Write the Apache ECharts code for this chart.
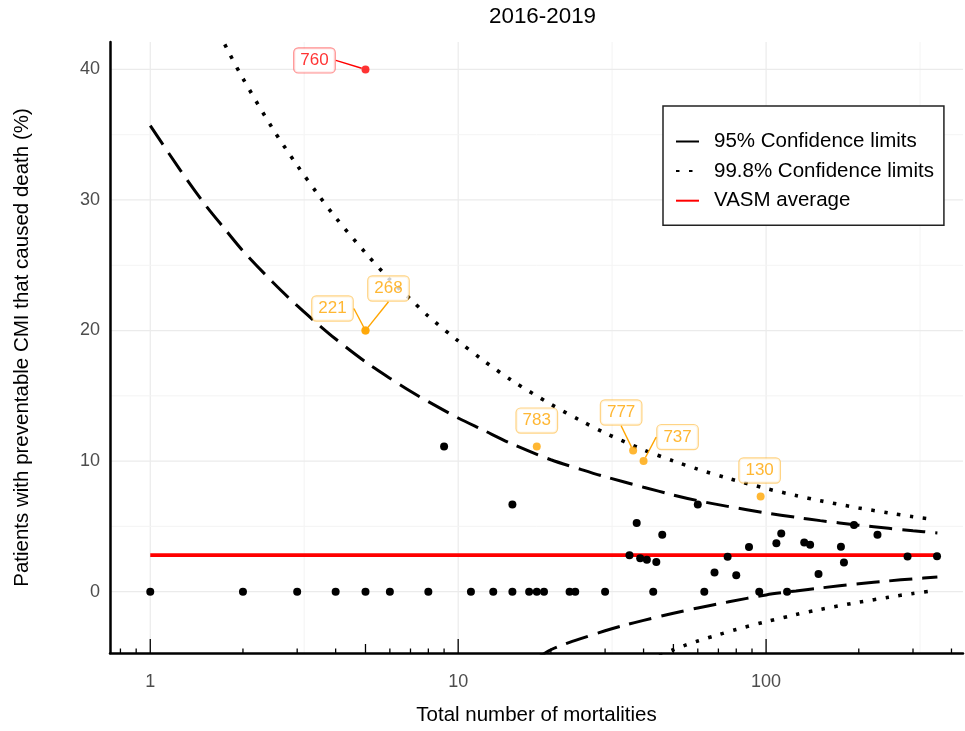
<!DOCTYPE html>
<html><head><meta charset="utf-8">
<script src="https://cdn.jsdelivr.net/npm/echarts@6.0.0/dist/echarts.min.js"></script>
<style>html,body{margin:0;padding:0;background:#fff}#c{width:965px;height:731px}</style>
</head><body><div id="c"></div>
<script>
// ---------- texts ----------
const titleText = '2016-2019';
const xTitle = 'Total number of mortalities';
const yTitle = 'Patients with preventable CMI that caused death (%)';
const name95 = '95% Confidence limits';
const name998 = '99.8% Confidence limits';
const nameAvg = 'VASM average';

// ---------- units (black points) ----------
const mortalities = [1,2,3,4,5,6,8,11,13,15,17,18,19,23,24,30,43,63,95,117,
  9,15,36,38,39,41,44,46,60,68,75,80,88,108,112,133,139,148,175,179,193,230,288,359];
const percentages = [0,0,0,0,0,0,0,0,0,0,0,0,0,0,0,0,0,0,0,0,
  11.11,6.67,2.78,5.26,2.56,2.44,2.27,4.35,6.67,1.47,2.67,1.25,3.41,3.70,4.46,3.76,3.60,1.35,3.43,2.23,5.10,4.35,2.70,2.72];

// ---------- flagged units ----------
const flaggedIds = ['760','221','268','783','777','737','130'];
const flaggedMortalities = [5,5,5,18,37,40,96];
const flaggedPercentages = [40,20,20,11.11,10.81,10.0,7.29];
const flaggedBeyond = ['99.8%','95%','95%','95%','95%','95%','95%'];

// ---------- VASM average ----------
const vasmAverage = 2.8;
const vasmRange = [1, 360];

// ---------- confidence limits ----------
const ci95UpperN = [1,1.25,1.5,1.75,2,2.5,3,3.5,4,5,6,7,8,10,12,15,20,25,30,40,50,60,75,100,125,150,200,250,300,360];
const ci95UpperP = [35.7,32.3,29.7,27.75,26.1,23.7,21.9,20.5,19.35,17.6,16.35,15.35,14.55,13.3,12.4,11.3,10.1,9.37,8.8,8.0,7.4,6.97,6.53,6.03,5.69,5.44,5.09,4.85,4.67,4.5];
const ci95LowerN = [18,20,22,25,30,35,40,50,60,75,100,125,150,200,250,300,360];
const ci95LowerP = [-5.1,-4.45,-4.05,-3.6,-3.0,-2.55,-2.2,-1.65,-1.25,-0.8,-0.25,0.05,0.28,0.6,0.82,0.98,1.12];
const ci998UpperN = [1.6,1.8,2,2.5,3,3.5,4,5,6,7,8,10,12,15,20,25,30,40,50,60,75,100,125,150,200,250,300,350];
const ci998UpperP = [43.7,41.3,39.3,35.45,32.65,30.45,28.65,25.95,23.9,22.4,21.1,19.2,17.75,16.15,14.35,13.1,12.15,10.86,10.01,9.38,8.69,7.9,7.36,6.96,6.41,6.03,5.74,5.53];
const ci998LowerN = [45,50,55,60,70,80,100,125,150,200,250,300,350];
const ci998LowerP = [-4.9,-4.45,-4.08,-3.78,-3.3,-2.9,-2.3,-1.76,-1.36,-0.81,-0.43,-0.14,0.07];

// ---------- axes ----------
const xMin = 0.74, xMax = 436;
const yMin = -4.7, yMax = 42.1;
const xTickLabels = [1, 10, 100];
const xTickValues = [0.8,0.9,1,2,3,4,5,6,7,8,9,10,20,30,40,50,60,70,80,90,100,200,300,400];
const xMajorGrid = [1, 10, 100];
const xMinorGrid = [3.162, 31.62, 316.2];
const yMajorGrid = [0, 10, 20, 30, 40];
const yMinorGrid = [5, 15, 25, 35];

// ---------- layout of the flagged labels (pixel shifts) ----------
const labelShifts = [[-51,-9],[-33,-22],[23,-42],[0,-26],[-12,-38],[34,-24],[-1,-26]];
const labelLineShown = [true,true,true,false,true,true,false];

const zip = (a, b) => a.map((v, i) => [v, b[i]]);
const FONT = 'Liberation Sans';

const gridData = [];
xMajorGrid.forEach(v => gridData.push([v, 0, 0, 0]));
xMinorGrid.forEach(v => gridData.push([v, 0, 0, 1]));
yMajorGrid.forEach(v => gridData.push([1, v, 1, 0]));
yMinorGrid.forEach(v => gridData.push([1, v, 1, 1]));

function isPow10(v){ const l = Math.log10(v); return Math.abs(l - Math.round(l)) < 1e-6; }
function isFive(v){ const l = Math.log10(v / 5); return Math.abs(l - Math.round(l)) < 1e-6; }

const flaggedData = flaggedIds.map((id, i) => {
  const red = flaggedBeyond[i] === '99.8%';
  const c = red ? '#FF0000' : '#FFA500';
  return {
    value: [flaggedMortalities[i], flaggedPercentages[i]],
    name: id,
    itemStyle: { color: c },
    label: { color: c, borderColor: red ? 'rgba(255,0,0,0.55)' : 'rgba(255,165,0,0.6)' },
    labelLine: { show: labelLineShown[i], lineStyle: { color: c, width: 1.4 } }
  };
});

const chart = echarts.init(document.getElementById('c'), null, { renderer: 'canvas' });
chart.setOption({
  animation: false,
  backgroundColor: '#fff',
  textStyle: { fontFamily: FONT },
  title: {
    text: titleText, left: 489, top: 6, padding: 0,
    textStyle: { fontFamily: FONT, fontSize: 22.4, fontWeight: 'normal', color: '#000' }
  },
  grid: { left: 110, right: 2, top: 42, bottom: 73, containLabel: false },
  legend: {
    data: [name95, name998, nameAvg],
    orient: 'vertical', left: 663, top: 106,
    padding: [25, 10, 14, 12],
    itemWidth: 23, itemHeight: 14, itemGap: 8.6,
    backgroundColor: '#fff', borderColor: '#222', borderWidth: 1.5, borderRadius: 0,
    selectedMode: false,
    itemStyle: { opacity: 0 },
    textStyle: { fontFamily: FONT, fontSize: 20.5, lineHeight: 20, color: '#000', padding: [0, 0, 0, 10] }
  },
  xAxis: {
    type: 'log', logBase: 10, min: xMin, max: xMax,
    name: xTitle, nameLocation: 'middle', nameGap: 52,
    nameTextStyle: { fontFamily: FONT, fontSize: 20.5, color: '#000' },
    axisLine: { show: true, onZero: false, lineStyle: { color: '#000', width: 2.5 } },
    axisTick: { show: false },
    splitLine: { show: false },
    axisLabel: {
      margin: 20, fontFamily: FONT, fontSize: 18, color: '#4D4D4D',
      showMinLabel: false, showMaxLabel: false,
      formatter: v => {
        const hit = xTickLabels.find(t => Math.abs(t - v) / t < 1e-6);
        return hit !== undefined ? String(hit) : '';
      }
    }
  },
  yAxis: {
    type: 'value', min: yMin, max: yMax,
    name: yTitle, nameLocation: 'middle', nameGap: 77,
    nameTextStyle: { fontFamily: FONT, fontSize: 20.5, color: '#000' },
    axisLine: { show: true, lineStyle: { color: '#000', width: 2.5 } },
    axisTick: { show: false },
    splitLine: { show: false },
    axisLabel: {
      margin: 10, fontFamily: FONT, fontSize: 18, color: '#4D4D4D',
      formatter: v => (Math.abs(v / 10 - Math.round(v / 10)) < 1e-6 ? String(Math.round(v)) : '')
    }
  },
  series: [
    {
      type: 'custom', silent: true, z: 0,
      data: gridData,
      renderItem: (params, api) => {
        const cs = params.coordSys;
        const orient = api.value(2), kind = api.value(3);
        const style = { stroke: kind === 0 ? '#EBEBEB' : '#F4F4F4', lineWidth: kind === 0 ? 1.2 : 1 };
        const p = api.coord([api.value(0), api.value(1)]);
        if (orient === 0) return { type: 'line', shape: { x1: p[0], y1: cs.y, x2: p[0], y2: cs.y + cs.height }, style };
        return { type: 'line', shape: { x1: cs.x, y1: p[1], x2: cs.x + cs.width, y2: p[1] }, style };
      }
    },
    { name: name95, type: 'line', data: zip(ci95UpperN, ci95UpperP), symbol: 'none', smooth: 0.3, silent: true,
      lineStyle: { color: '#000', width: 3, type: [23, 10] }, z: 2 },
    { name: name95, type: 'line', data: zip(ci95LowerN, ci95LowerP), symbol: 'none', smooth: 0.3, silent: true,
      lineStyle: { color: '#000', width: 3, type: [23, 10] }, z: 2 },
    { name: name998, type: 'line', data: zip(ci998UpperN, ci998UpperP), symbol: 'none', smooth: 0.3, silent: true,
      lineStyle: { color: '#000', width: 3.6, type: [3.5, 9.5] }, z: 2 },
    { name: name998, type: 'line', data: zip(ci998LowerN, ci998LowerP), symbol: 'none', smooth: 0.3, silent: true,
      lineStyle: { color: '#000', width: 3.6, type: [3.5, 9.5] }, z: 2 },
    { name: nameAvg, type: 'line', data: vasmRange.map(n => [n, vasmAverage]), symbol: 'none', silent: true,
      lineStyle: { color: '#FF0000', width: 3.6 }, z: 3 },
    { type: 'scatter', data: zip(mortalities, percentages), symbol: 'circle', symbolSize: 8, silent: true,
      itemStyle: { color: '#000', opacity: 1 }, z: 4 },
    {
      type: 'scatter', data: flaggedData, symbol: 'circle', symbolSize: 8, silent: true, z: 10,
      label: {
        show: true, position: 'inside', formatter: p => p.name,
        fontFamily: FONT, fontSize: 17, lineHeight: 18,
        backgroundColor: '#fff', borderWidth: 1.2, borderRadius: 4, padding: [4, 6, 2, 6]
      },
      labelLine: { show: true, lineStyle: { width: 1.4 } },
      labelLayout: p => ({ dx: labelShifts[p.dataIndex][0], dy: labelShifts[p.dataIndex][1] })
    },
    {
      type: 'custom', silent: true, z: 6,
      data: xTickValues.map(v => [v, 0]),
      renderItem: (params, api) => {
        const cs = params.coordSys;
        const v = api.value(0);
        const len = isPow10(v) ? 14 : (isFive(v) ? 9 : 4.5);
        const x = api.coord([v, 0])[0];
        const yb = cs.y + cs.height;
        return { type: 'line', shape: { x1: x, y1: yb, x2: x, y2: yb - len }, style: { stroke: '#000', lineWidth: 1.3 } };
      }
    }
  ]
});
</script></body></html>
